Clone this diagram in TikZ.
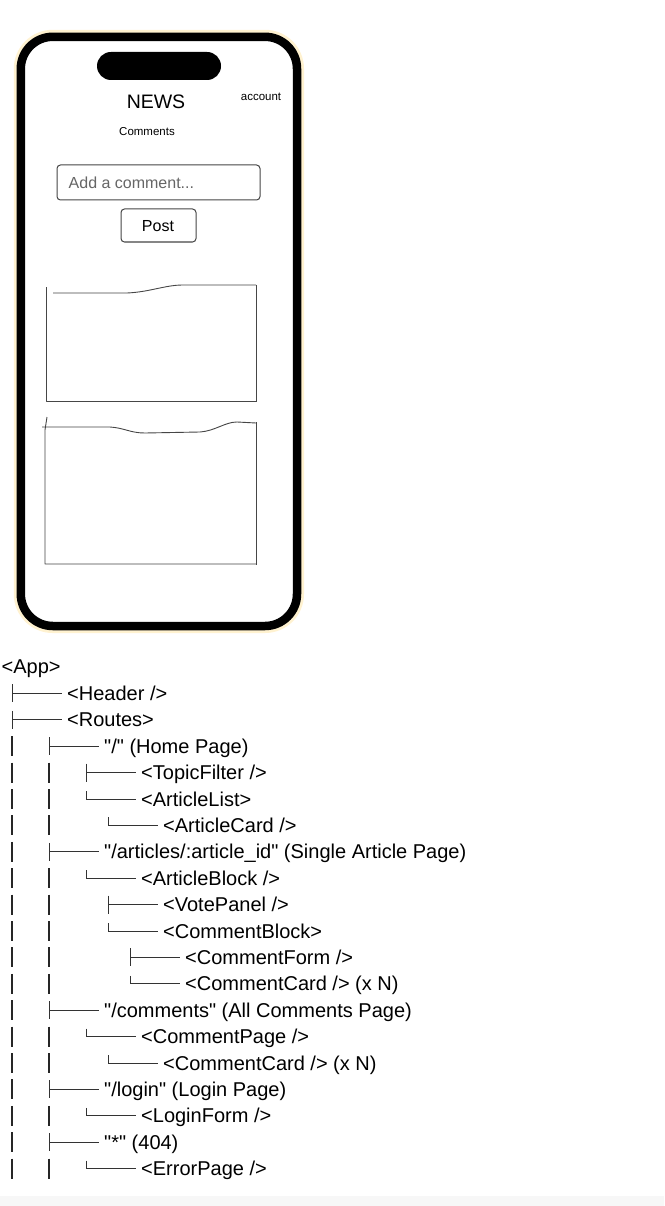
\documentclass[tikz,border=0pt]{standalone}
\usepackage{fontspec}
\setmainfont{Liberation Sans}
\newfontfamily\treefont{Liberation Sans}
\definecolor{glow}{RGB}{255,232,170}
\definecolor{sketch}{RGB}{70,70,70}
\tikzset{
  phone/.style={line width=8.5pt, draw=black, rounded corners=32pt},
  glowline/.style={line width=14pt, draw=glow, opacity=0.55, rounded corners=32pt},
  field/.style={draw=sketch, line width=1pt, rounded corners=3.5pt},
  sketchline/.style={draw=sketch, line width=0.9pt, line join=round},
  bar/.style={draw=black!85, line width=1.2pt},
  branch/.style={draw=black!80, line width=0.85pt},
  tree/.style={inner sep=0pt, font=\treefont\fontsize{20}{24}\selectfont},
  uitext/.style={inner sep=0pt}
}
% #1 name, #2 row, #3 number of plain bars, #4 branch x, #5 type (1 = tee, 0 = last), #6 text
\newcommand{\treeitem}[6]{%
  \pgfmathsetmacro\ry{667+26.4*#2}%
  \node[tree, anchor=base west] (#1) at (#4+55,\ry+7) {#6};%
  \ifnum#3>0 \draw[bar] (12,\ry-10) -- (12,\ry+10);\fi
  \ifnum#3>1 \draw[bar] (49,\ry-10) -- (49,\ry+10);\fi
  \ifnum#5=1
    \draw[branch] (#4,\ry-9) -- (#4,\ry+9);
    \draw[branch] (#4,\ry) -- ([shift={(-5,-7)}]#1.base west);
  \else
    \draw[branch] (#4,\ry-8) |- ([shift={(-5,-7)}]#1.base west);
  \fi
}
\begin{document}
\begin{tikzpicture}[x=1pt,y=-1pt]
\useasboundingbox (0,0) rectangle (664,1206);
\fill[white] (0,0) rectangle (664,1206);
\fill[black!3] (0,1196) rectangle (664,1206);

% phone
\draw[glowline] (20.8,36.8) rectangle (297,626);
\fill[white] (20.8,36.8) [rounded corners=32pt] rectangle (297,626);
\draw[phone] (20.8,36.8) rectangle (297,626);
\fill[black, rounded corners=14pt] (97,52) rectangle (221,80);

\node[uitext, font=\fontsize{19.5}{22}\selectfont] (news) at (156,102) {NEWS};
\node[uitext, font=\fontsize{11.5}{14}\selectfont] (account) at (261,97) {account};
\node[uitext, font=\fontsize{11.5}{14}\selectfont] (comments) at (147,132) {Comments};

\draw[field] (57,165) rectangle (260,200);
\node[uitext, anchor=west, text=black!60, font=\fontsize{16}{19}\selectfont] (placeholder) at (68.5,182.5) {Add a comment...};
\draw[field] (121,209) rectangle (196,242);
\node[uitext, font=\fontsize{16}{19}\selectfont] (post) at (158,226) {Post};

% sketched card 1
\draw[sketchline] (46,287) -- (46,401) -- (256,401);
\draw[sketchline] (256,285) -- (256,402);
\draw[sketchline] (53,293) -- (127,293) .. controls (150,292) and (165,285) .. (183,285) -- (256,285);
% sketched card 2
\draw[sketchline] (47,417) -- (45,430) -- (45,564) -- (256,564);
\draw[sketchline] (256,422) -- (256,565);
\draw[sketchline] (42,427) -- (110,427) .. controls (125,428) and (130,433) .. (145,433) -- (200,432) .. controls (215,431) and (225,422) .. (237,422) -- (256,423);

% component tree
\node[tree, anchor=base west] (app) at (1.5,673) {<App>};
\treeitem{header}{1}{0}{12}{1}{<Header />}
\treeitem{routes}{2}{0}{12}{1}{<Routes>}
\treeitem{home}{3}{1}{49}{1}{"/" (Home Page)}
\treeitem{topic}{4}{2}{86}{1}{<TopicFilter />}
\treeitem{alist}{5}{2}{86}{0}{<ArticleList>}
\treeitem{acard}{6}{2}{108}{0}{<ArticleCard />}
\treeitem{single}{7}{1}{49}{1}{"/articles/:article\_id" (Single Article Page)}
\treeitem{ablock}{8}{2}{86}{0}{<ArticleBlock />}
\treeitem{vote}{9}{2}{108}{1}{<VotePanel />}
\treeitem{cblock}{10}{2}{108}{0}{<CommentBlock>}
\treeitem{cform}{11}{2}{130}{1}{<CommentForm />}
\treeitem{ccard}{12}{2}{130}{0}{<CommentCard /> (x N)}
\treeitem{allc}{13}{1}{49}{1}{"/comments" (All Comments Page)}
\treeitem{cpage}{14}{2}{86}{0}{<CommentPage />}
\treeitem{ccardb}{15}{2}{108}{0}{<CommentCard /> (x N)}
\treeitem{login}{16}{1}{49}{1}{"/login" (Login Page)}
\treeitem{lform}{17}{2}{86}{0}{<LoginForm />}
\treeitem{nf}{18}{1}{49}{1}{"*" (404)}
\treeitem{epage}{19}{2}{86}{0}{<ErrorPage />}
\end{tikzpicture}
\end{document}
